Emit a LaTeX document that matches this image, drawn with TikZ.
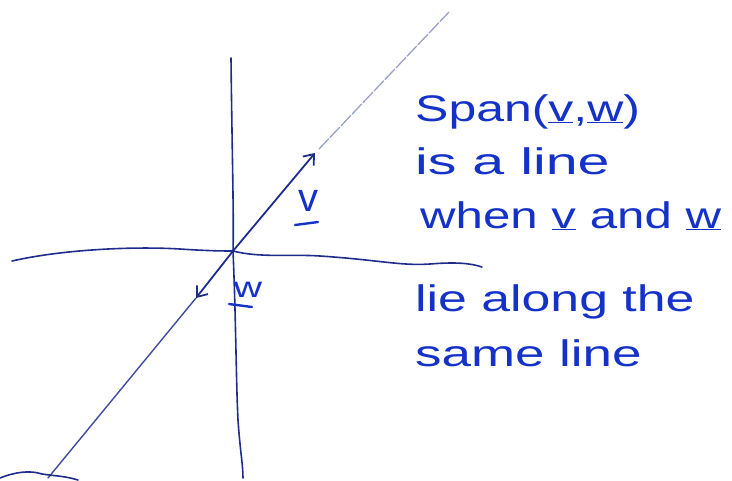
\documentclass[tikz,border=0pt]{standalone}
\usepackage{fontspec}
\setmainfont{Liberation Sans}
\usetikzlibrary{arrows.meta}
\definecolor{ink}{RGB}{20,50,200}
\definecolor{axisink}{RGB}{30,45,140}
\tikzset{
  axisline/.style={draw=axisink, line width=1.6pt, line cap=round, line join=round},
  spanline/.style={draw=axisink!85!white, line width=1.4pt, line cap=round},
  faintline/.style={draw=axisink!45!white, line width=1.3pt, dash pattern=on 14pt off 2pt, line cap=round},
  vec/.style={draw=axisink, line width=1.8pt, -{Straight Barb[length=9pt,width=14pt,line width=1.8pt]}},
  handtext/.style={text=ink, font=\fontsize{37}{40}\selectfont, anchor=base west, inner sep=0pt},
  veclabel/.style={text=ink, font=\fontsize{40}{42}\selectfont, inner sep=0pt},
  uline/.style={draw=ink, line width=2.4pt, line cap=round}
}
\newcommand{\hstretch}[2]{\scalebox{#1}[1]{#2}}
\begin{document}
\begin{tikzpicture}[x=1pt,y=-1pt]
\useasboundingbox (0,0) rectangle (732,480);
% axes
\coordinate (O) at (233,251);
\coordinate (vtop) at (231,58);
\coordinate (vbot) at (243,478);
\coordinate (hleft) at (12,261);
\coordinate (hright) at (482,267);
\draw[axisline] (vtop) .. controls (232,150) and (234,220) .. (O)
  .. controls (236,320) and (236,380) .. (238,420) .. controls (240,450) and (243,465) .. (vbot);
\draw[axisline] (hleft) .. controls (60,250) and (130,246) .. (180,249)
  .. controls (210,251) and (225,251) .. (O) .. controls (260,258) and (290,254) .. (320,256)
  .. controls (380,260) and (400,266) .. (430,264) .. controls (455,262) and (470,263) .. (hright);
% span line
\coordinate (vtip) at (315,153);
\coordinate (wtip) at (196,298);
\coordinate (lineend) at (449,12);
\coordinate (linestart) at (48,478);
\draw[faintline] (319,149) -- (lineend);
\draw[spanline] (wtip) -- (linestart);
\draw[vec] (O) -- (vtip);
\draw[vec] (O) -- (wtip);
% bottom-left scribble
\coordinate (sc1) at (0,478);
\coordinate (sc2) at (78,480);
\draw[axisline] (sc1) .. controls (15,472) and (30,470) .. (42,474) .. controls (55,476) and (65,476) .. (sc2);
% vector labels
\node[veclabel, anchor=base] (vlab) at (308,211) {v};
\coordinate (vu1) at (295,225);
\coordinate (vu2) at (318,222);
\draw[uline] (vu1) -- (vu2);
\node[veclabel, anchor=base, font=\fontsize{29}{30}\selectfont] (wlab) at (248,297) {\hstretch{1.35}{w}};
\coordinate (wu1) at (229,304);
\coordinate (wu2) at (252,307);
\draw[uline] (wu1) -- (wu2);
% text
\node[handtext] (t1) at (415,121) {\hstretch{1.35}{Span(\underline{v},\underline{w})}};
\node[handtext] (t2) at (415,174) {\hstretch{1.55}{is a line}};
\node[handtext] (t3) at (420,228) {\hstretch{1.33}{when \underline{v} and \underline{w}}};
\node[handtext] (t4) at (415,311) {\hstretch{1.4}{lie along the}};
\node[handtext] (t5) at (415,366) {\hstretch{1.43}{same line}};
\end{tikzpicture}
\end{document}
